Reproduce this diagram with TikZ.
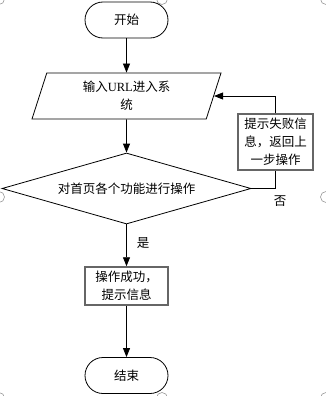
\documentclass[tikz,border=0pt]{standalone}
\usepackage{fontspec}
\setmainfont{Liberation Serif}
\newfontfamily\cjk{Noto Sans CJK SC}
\usetikzlibrary{arrows.meta,shapes.geometric}

\begin{document}
\begin{tikzpicture}[x=1pt,y=-1pt,
    line width=0.8pt,
    every node/.style={font=\cjk\fontsize{12.5}{18}\selectfont,align=center,inner sep=0pt},
    term/.style={draw,rounded corners=18pt,minimum width=83pt,minimum height=36pt},
    iobox/.style={draw,trapezium,trapezium left angle=63.4,trapezium right angle=116.6,
        trapezium stretches body,minimum width=189pt,minimum height=46pt},
    choice/.style={draw,diamond,aspect=3.5,minimum width=249pt,minimum height=71pt},
    procbox/.style={draw=black!60,line width=1.5pt,rectangle},
    flow/.style={-{Triangle[length=9pt,width=7pt]}},
    handle/.style={draw=black!40,line width=0.6pt}
]

% Frame
\useasboundingbox (0,0) rectangle (325,396);

% Canvas handles
\foreach \hx/\hy in {-1/-1,162/-1,326/-1,-1/197,326/197,-1/398,162/398,326/398}
    \draw[handle] (\hx,\hy) circle (5.5);

% Nodes
\node[term] (start) at (126.5,20) {开始};
\node[iobox] (input) at (126.5,96) {输入{\rmfamily URL}进入系\\统};
\node[choice] (check) at (126.5,188.5) {对首页各个功能进行操作};
\node[procbox,minimum width=75pt,minimum height=56pt] (fail) at (275.5,142) {提示失败信\\息，返回上\\一步操作};
\node[procbox,minimum width=83pt,minimum height=38pt] (ok) at (126.5,286) {操作成功，\\提示信息};
\node[term] (stop) at (126.5,375.5) {结束};

% Connectors
\draw[flow] (start) -- (input);
\draw[flow] (input) -- (check);
\draw (check.east) -| (fail.south);
\draw[flow] (fail.north) |- (input.east);
\draw[flow] (check) -- (ok);
\draw[flow] (ok) -- (stop);

% Labels
\node at (143,243) {是};
\node at (280,201) {否};

\end{tikzpicture}
\end{document}
